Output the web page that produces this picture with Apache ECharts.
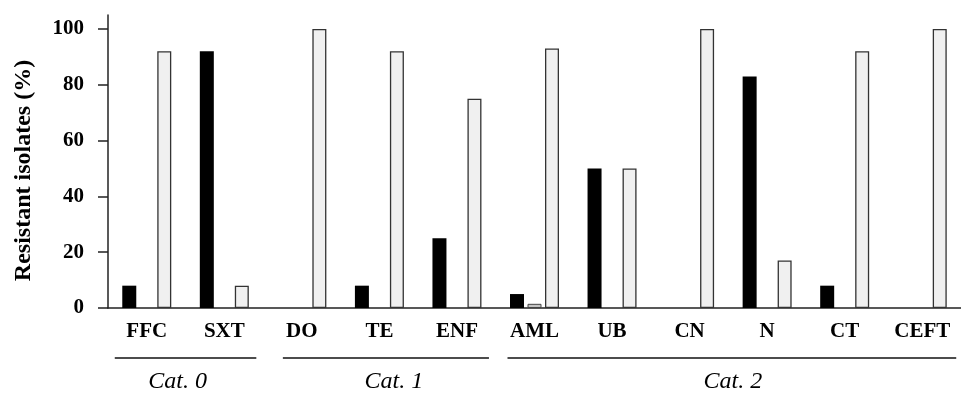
<!DOCTYPE html>
<html>
<head>
<meta charset="utf-8">
<script src="https://cdn.jsdelivr.net/npm/echarts@6/dist/echarts.min.js"></script>
<style>
html,body{margin:0;padding:0;background:#fff;}
#main{width:961px;height:393px;}
</style>
</head>
<body>
<div id="main"></div>
<script>
var categories = ['FFC','SXT','DO','TE','ENF','AML','UB','CN','N','CT','CEFT'];
var seriesBlack = [8, 92, 0, 8, 25, 5, 50, 0, 83, 8, 0];
var seriesMid = ['-', '-', '-', '-', '-', 1.5, '-', '-', '-', '-', '-'];
var seriesLight = [92, 8, 100, 92, 75, 93, 50, 100, 17, 92, 100];
var yTicks = [0, 20, 40, 60, 80, 100];
var groups = [
  {name: 'Cat. 0', from: 0, to: 1},
  {name: 'Cat. 1', from: 2, to: 4},
  {name: 'Cat. 2', from: 5, to: 10}
];

var serif = '"Liberation Serif", "DejaVu Serif", serif';
var chart = echarts.init(document.getElementById('main'), null, {renderer: 'canvas'});
var option = {
  backgroundColor: '#fff',
  animation: false,
  grid: {left: 108, right: -1, top: 15, bottom: 85, containLabel: false},
  xAxis: {
    type: 'category',
    data: categories,
    axisLine: {lineStyle: {color: '#222', width: 1.5}},
    axisTick: {show: false},
    axisLabel: {color: '#000', fontFamily: serif, fontWeight: 'bold', fontSize: 21, margin: 13, interval: 0}
  },
  yAxis: {
    type: 'value',
    min: 0, max: 105, interval: 20,
    name: 'Resistant isolates (%)',
    nameLocation: 'middle',
    nameGap: 72,
    nameRotate: 90,
    nameTextStyle: {color: '#000', fontFamily: serif, fontWeight: 'bold', fontSize: 24, padding: [0, 18, 0, 0]},
    splitLine: {show: false},
    axisLine: {show: true, lineStyle: {color: '#222', width: 1.5}},
    axisTick: {show: true, length: 10, inside: false, customValues: yTicks, lineStyle: {color: '#222', width: 1.5}},
    axisLabel: {color: '#000', fontFamily: serif, fontWeight: 'bold', fontSize: 21, margin: 24, customValues: yTicks}
  },
  series: [
    {type: 'bar', data: seriesBlack, barWidth: 14, barGap: '25%', itemStyle: {color: '#000'}},
    {type: 'bar', data: seriesMid, barWidth: 14, barGap: '25%', itemStyle: {color: '#c4c4c4', borderColor: '#444', borderWidth: 1}},
    {type: 'bar', data: seriesLight, barWidth: 14, barGap: '25%', itemStyle: {color: '#f0f0f0', borderColor: '#333', borderWidth: 1.3}}
  ]
};
chart.setOption(option);

// group brackets below the axis, positioned from the category scale
var leftPad = [-32, -19, -27];
var rightPad = [32, 32, 34];
var labelShift = [-8, 8, 1];
var gfx = [];
groups.forEach(function (g, i) {
  var x0 = chart.convertToPixel({xAxisIndex: 0}, categories[g.from]) + leftPad[i];
  var x1 = chart.convertToPixel({xAxisIndex: 0}, categories[g.to]) + rightPad[i];
  var y0 = chart.convertToPixel({yAxisIndex: 0}, 0);
  gfx.push({type: 'line', shape: {x1: x0, y1: y0 + 50, x2: x1, y2: y0 + 50}, style: {stroke: '#111', lineWidth: 1.3}});
  gfx.push({type: 'text', x: (x0 + x1) / 2 + labelShift[i], y: y0 + 74,
    style: {text: g.name, fill: '#000', font: 'italic 24px ' + serif, textAlign: 'center', textVerticalAlign: 'middle'}});
});
chart.setOption({graphic: gfx});
</script>
</body>
</html>
